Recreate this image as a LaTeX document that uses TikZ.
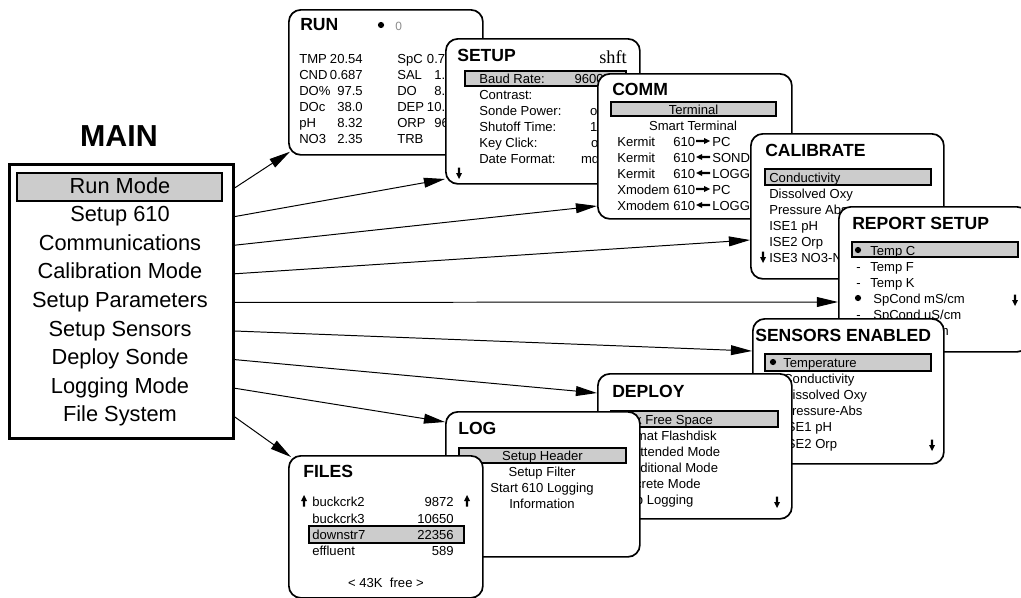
\documentclass[tikz,border=0pt]{standalone}
\usepackage{fontspec}
\setmainfont{Liberation Sans}
\newfontfamily\tmsfont{Liberation Serif}
\usetikzlibrary{arrows.meta}
\definecolor{barg}{gray}{0.8}

\begin{document}
\begin{tikzpicture}[x=0.025cm, y=-0.025cm,
  scr/.style={draw, fill=white, line width=1.2pt, rounded corners=0.3cm, anchor=north west, minimum width=4.85cm, minimum height=3.625cm, inner sep=0pt},
  ttl/.style={anchor=west, inner sep=0pt, text height=0.72em, text depth=0pt, font=\bfseries\fontsize{12.5}{14}\selectfont},
  txt/.style={anchor=west, inner sep=0pt, text height=0.72em, text depth=0pt, font=\fontsize{9.3}{11}\selectfont},
  rtxt/.style={txt, anchor=east},
  ctxt/.style={txt, anchor=center},
  mitem/.style={anchor=center, inner sep=0pt, text height=0.72em, text depth=0pt, font=\fontsize{15.5}{18}\selectfont},
  bar/.style={draw, fill=barg, line width=0.9pt, inner sep=0pt, text height=0.72em, text depth=0pt, font=\fontsize{9.3}{11}\selectfont},
  bul/.style={circle, fill=black, inner sep=0pt, minimum size=0.155cm},
  arr/.style={line width=0.7pt, -{Triangle[length=15pt,width=7pt]}},
  pics/dnarr/.style={code={\fill (-1.2,-5.5) -- (1.2,-5.5) -- (1.2,0) -- (3,0) -- (0,6) -- (-3,0) -- (-1.2,0) -- cycle;}},
  pics/uparr/.style={code={\fill (-1.2,5.5) -- (1.2,5.5) -- (1.2,0) -- (3,0) -- (0,-6) -- (-3,0) -- (-1.2,0) -- cycle;}},
  pics/rarr/.style={code={\fill (-7,-1.2) -- (1,-1.2) -- (1,-3) -- (7,0) -- (1,3) -- (1,1.2) -- (-7,1.2) -- cycle;}},
  pics/larr/.style={code={\fill (7,-1.2) -- (-1,-1.2) -- (-1,-3) -- (-7,0) -- (-1,3) -- (-1,1.2) -- (7,1.2) -- cycle;}}]
    \useasboundingbox (0,0) rectangle (1021,598);
    \clip (0,0) rectangle (1021,598);

    \node[anchor=center, inner sep=0pt, text height=0.72em, text depth=0pt, font=\bfseries\fontsize{21.6}{24}\selectfont] (maint) at (119,141) {MAIN};
    \node[draw, line width=1.8pt, anchor=north west, minimum width=5.6cm, minimum height=6.85cm, inner sep=0pt] (main) at (8,163) {};
    \node[bar, minimum width=5.125cm, minimum height=0.7cm] (mbar) at (119.5,187) {};
    \node[mitem] (m1) at (120,188) {Run Mode};
    \node[mitem] (m2) at (120,216.6) {Setup 610};
    \node[mitem] (m3) at (120,245.2) {Communications};
    \node[mitem] (m4) at (120,273.8) {Calibration Mode};
    \node[mitem] (m5) at (120,302.4) {Setup Parameters};
    \node[mitem] (m6) at (120,331) {Setup Sensors};
    \node[mitem] (m7) at (120,359.6) {Deploy Sonde};
    \node[mitem] (m8) at (120,388.2) {Logging Mode};
    \node[mitem] (m9) at (120,416.8) {File System};

    \node[scr] (run) at (288,9) {};
    \node[ttl] (runt) at (300,25) {RUN};
    \node[bul] (runb) at (381,25) {};
    \node[txt, text=black!45, font=\fontsize{8.5}{10}\selectfont] (runz) at (395,25) {0};
    \node[txt] (r1a) at (299,58) {TMP};
    \node[rtxt] (r1b) at (363,58) {20.54};
    \node[txt] (r1c) at (397,58) {SpC};
    \node[rtxt] (r1d) at (460,58) {0.712};
    \node[txt] (r2a) at (299,74) {CND};
    \node[rtxt] (r2b) at (363,74) {0.687};
    \node[txt] (r2c) at (397,74) {SAL};
    \node[rtxt] (r2d) at (460,74) {1.34};
    \node[txt] (r3a) at (299,90) {DO\%};
    \node[rtxt] (r3b) at (363,90) {97.5};
    \node[txt] (r3c) at (397,90) {DO};
    \node[rtxt] (r3d) at (460,90) {8.45};
    \node[txt] (r4a) at (299,106) {DOc};
    \node[rtxt] (r4b) at (363,106) {38.0};
    \node[txt] (r4c) at (397,106) {DEP};
    \node[rtxt] (r4d) at (460,106) {10.26};
    \node[txt] (r5a) at (299,122) {pH};
    \node[rtxt] (r5b) at (363,122) {8.32};
    \node[txt] (r5c) at (397,122) {ORP};
    \node[rtxt] (r5d) at (460,122) {96.3};
    \node[txt] (r6a) at (299,138) {NO3};
    \node[rtxt] (r6b) at (363,138) {2.35};
    \node[txt] (r6c) at (397,138) {TRB};
    \node[rtxt] (r6d) at (460,138) {23};

    \node[scr] (set) at (445,38) {};
    \node[ttl] (sett) at (457,56) {SETUP};
    \node[anchor=base east, inner sep=0pt, font=\tmsfont\fontsize{13}{15}\selectfont] (shft) at (627,63) {shft};
    \node[bar, minimum width=4.025cm, minimum height=0.375cm] (setbar) at (545.5,78.5) {};
    \node[txt] (s1a) at (479,78) {Baud Rate:};
    \node[rtxt] (s1b) at (604,78) {9600};
    \node[txt] (s2a) at (479,94) {Contrast:};
    \node[txt] (s3a) at (479,110) {Sonde Power:};
    \node[rtxt] (s3b) at (605,110) {on};
    \node[txt] (s4a) at (479,126) {Shutoff Time:};
    \node[rtxt] (s4b) at (605,126) {10};
    \node[txt] (s5a) at (479,142) {Key Click:};
    \node[rtxt] (s5b) at (606,142) {on};
    \node[txt] (s6a) at (479,158) {Date Format:};
    \node[rtxt] (s6b) at (606,158) {mdy};
    \pic at (459,173) {dnarr};

    \node[scr] (comm) at (597,73) {};
    \node[ttl] (commt) at (612,90) {COMM};
    \node[bar, minimum width=4.125cm, minimum height=0.35cm] (commbar) at (693.5,109) {Terminal};
    \node[ctxt] (c0) at (693,125) {Smart Terminal};
    \node[txt] (c1a) at (617,141) {Kermit};
    \node[txt] (c1b) at (673,141) {610};
    \pic at (703,141) {rarr};
    \node[txt] (c1c) at (712,141) {PC};
    \node[txt] (c2a) at (617,157) {Kermit};
    \node[txt] (c2b) at (673,157) {610};
    \pic at (703,157) {larr};
    \node[txt] (c2c) at (712,157) {SONDE};
    \node[txt] (c3a) at (617,173) {Kermit};
    \node[txt] (c3b) at (673,173) {610};
    \pic at (703,173) {larr};
    \node[txt] (c3c) at (712,173) {LOGGER};
    \node[txt] (c4a) at (617,189) {Xmodem};
    \node[txt] (c4b) at (673,189) {610};
    \pic at (703,189) {rarr};
    \node[txt] (c4c) at (712,189) {PC};
    \node[txt] (c5a) at (617,205) {Xmodem};
    \node[txt] (c5b) at (673,205) {610};
    \pic at (703,205) {larr};
    \node[txt] (c5c) at (712,205) {LOGGER};

    \node[scr, minimum width=4.825cm] (cal) at (750,133) {};
    \node[ttl] (calt) at (765,151) {CALIBRATE};
    \node[bar, minimum width=4.15cm, minimum height=0.4cm] (calbar) at (848,177) {};
    \node[txt] (k1) at (769,177) {Conductivity};
    \node[txt] (k2) at (769,193) {Dissolved Oxy};
    \node[txt] (k3) at (769,209) {Pressure Abs};
    \node[txt] (k4) at (769,225) {ISE1 pH};
    \node[txt] (k5) at (769,241) {ISE2 Orp};
    \node[txt] (k6) at (769,257) {ISE3 NO3-N};
    \pic at (763,257) {dnarr};

    \node[scr, minimum width=4.75cm] (rep) at (838,206) {};
    \node[ttl] (rept) at (852,224) {REPORT SETUP};
    \node[bar, minimum width=4.15cm, minimum height=0.375cm] (repbar) at (935,249.5) {};
    \node[bul] (p1a) at (858,250) {};
    \node[txt] (p1b) at (870,250) {Temp C};
    \node[txt] (p2a) at (856,266) {-};
    \node[txt] (p2b) at (870,266) {Temp F};
    \node[txt] (p3a) at (856,282) {-};
    \node[txt] (p3b) at (870,282) {Temp K};
    \node[bul] (p4a) at (858,298) {};
    \node[txt] (p4b) at (873,298) {SpCond mS/cm};
    \node[txt] (p5a) at (856,314) {-};
    \node[txt] (p5b) at (873,314) {SpCond uS/cm};
    \node[txt] (p6b) at (873,330) {Cond mS/cm};
    \pic at (1015,300) {dnarr};

    \node[scr, minimum width=4.775cm] (sens) at (752,318) {};
    \node[ttl] (senst) at (755,336) {SENSORS ENABLED};
    \node[bar, minimum width=4.15cm, minimum height=0.425cm] (sensbar) at (848,362.5) {};
    \node[bul] (e1a) at (773,362) {};
    \node[txt] (e1b) at (783,362) {Temperature};
    \node[txt] (e2) at (783,378) {Conductivity};
    \node[txt] (e3) at (783,394) {Dissolved Oxy};
    \node[txt] (e4) at (783,410) {Pressure-Abs};
    \node[txt] (e5) at (783,426) {ISE1 pH};
    \node[txt] (e6) at (783,443) {ISE2 Orp};
    \pic at (932,445) {dnarr};

    \node[scr] (dep) at (597,373) {};
    \node[ttl] (dept) at (612,392) {DEPLOY};
    \node[bar, minimum width=4.175cm, minimum height=0.4cm] (depbar) at (694.5,419) {};
    \node[txt] (d1) at (616,419) {Disk Free Space};
    \node[txt] (d2) at (616,435) {Format Flashdisk};
    \node[txt] (d3) at (616,451) {Unattended Mode};
    \node[txt] (d4) at (616,467) {Conditional Mode};
    \node[txt] (d5) at (616,483) {Discrete Mode};
    \node[txt] (d6) at (616,499) {Stop Logging};
    \pic at (777,502) {dnarr};

    \node[scr] (log) at (445,411) {};
    \node[ttl] (logt) at (458,429) {LOG};
    \node[bar, minimum width=4.175cm, minimum height=0.375cm] (logbar) at (542.5,455.5) {Setup Header};
    \node[ctxt] (l1) at (542,471) {Setup Filter};
    \node[ctxt] (l2) at (542,487) {Start 610 Logging};
    \node[ctxt] (l3) at (542,503) {Information};

    \node[scr, minimum height=3.55cm] (files) at (288,455) {};
    \node[ttl] (filest) at (303,472) {FILES};
    \pic at (304,501) {uparr};
    \node[txt] (f1a) at (312,501) {buckcrk2};
    \node[rtxt] (f1b) at (454,501) {9872};
    \pic at (467,501) {uparr};
    \node[txt] (f2a) at (312,518) {buckcrk3};
    \node[rtxt] (f2b) at (454,518) {10650};
    \node[bar, minimum width=3.875cm, minimum height=0.425cm] (filebar) at (386.5,534.5) {};
    \node[txt] (f3a) at (312,534) {downstr7};
    \node[rtxt] (f3b) at (454,534) {22356};
    \node[txt] (f4a) at (312,550) {effluent};
    \node[rtxt] (f4b) at (454,550) {589};
    \node[ctxt] (ffree) at (386,582) {< 43K~ free >};

    \draw[arr] (main.east |- m1) -- ([shift={(2,-4)}]run.south west);
    \draw[arr] (main.east |- m2) -- (set.west |- 0,179);
    \draw[arr] (main.east |- m3) -- (comm.west |- 0,206);
    \draw[arr] (main.east |- m4) -- (cal.west |- 0,240);
    \draw[arr] (main.east |- m5) -- (rep.west |- 0,302);
    \draw[arr] (main.east |- m6) -- (sens.west |- 0,351);
    \draw[arr] (main.east |- m7) -- (dep.west |- 0,393);
    \draw[arr] (main.east |- m8) -- (log.west |- 0,422);
    \draw[arr] (main.east |- m9) -- ([shift={(3,2)}]files.north west);
\end{tikzpicture}
\end{document}
